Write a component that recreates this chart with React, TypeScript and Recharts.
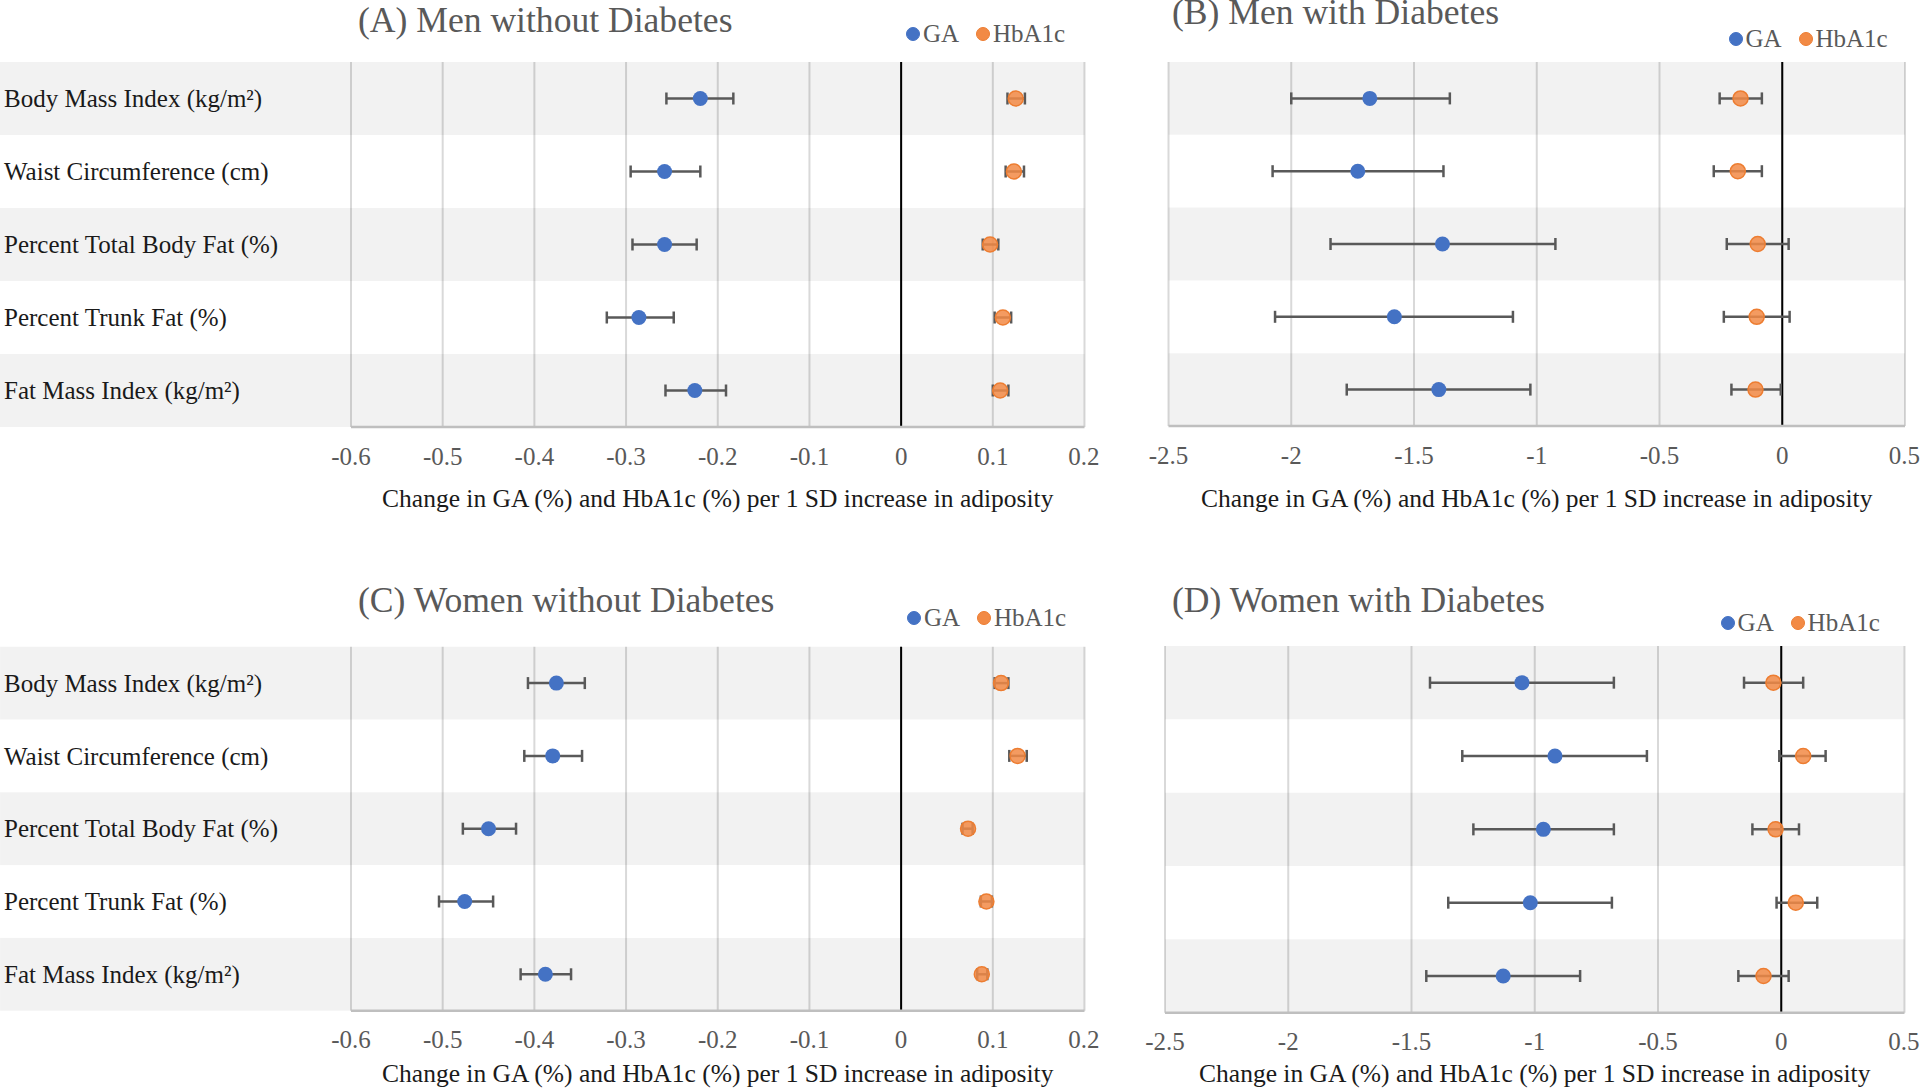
import React from 'react';
import { ScatterChart, Scatter, XAxis, YAxis, CartesianGrid, ReferenceLine, ReferenceArea, ErrorBar } from 'recharts';

const FONT = '"Liberation Serif", "Times New Roman", serif';

const categories = [
  'Body Mass Index (kg/m²)',
  'Waist Circumference (cm)',
  'Percent Total Body Fat (%)',
  'Percent Trunk Fat (%)',
  'Fat Mass Index (kg/m²)',
];

const ticksNoDm = [-0.6, -0.5, -0.4, -0.3, -0.2, -0.1, 0, 0.1, 0.2];
const ticksDm = [-2.5, -2, -1.5, -1, -0.5, 0, 0.5];

// (A) men without diabetes
const gaMenNoDm = [-0.219, -0.258, -0.258, -0.286, -0.225];
const gaMenNoDmLo = [-0.256, -0.295, -0.293, -0.321, -0.257];
const gaMenNoDmHi = [-0.183, -0.219, -0.223, -0.248, -0.191];
const hbMenNoDm = [0.125, 0.123, 0.097, 0.111, 0.108];
const hbMenNoDmLo = [0.116, 0.114, 0.089, 0.102, 0.1];
const hbMenNoDmHi = [0.135, 0.134, 0.106, 0.12, 0.117];

// (B) men with diabetes
const gaMenDm = [-1.68, -1.729, -1.384, -1.58, -1.399];
const gaMenDmLo = [-2.0, -2.076, -1.84, -2.066, -1.774];
const gaMenDmHi = [-1.354, -1.38, -0.924, -1.097, -1.026];
const hbMenDm = [-0.17, -0.181, -0.1, -0.104, -0.109];
const hbMenDmLo = [-0.255, -0.279, -0.226, -0.238, -0.207];
const hbMenDmHi = [-0.083, -0.083, 0.026, 0.03, -0.006];

// (C) women without diabetes
const gaWomenNoDm = [-0.376, -0.38, -0.45, -0.476, -0.388];
const gaWomenNoDmLo = [-0.407, -0.411, -0.478, -0.504, -0.415];
const gaWomenNoDmHi = [-0.345, -0.348, -0.42, -0.445, -0.36];
const hbWomenNoDm = [0.109, 0.127, 0.073, 0.093, 0.088];
const hbWomenNoDmLo = [0.102, 0.118, 0.067, 0.087, 0.083];
const hbWomenNoDmHi = [0.117, 0.137, 0.078, 0.099, 0.094];

// (D) women with diabetes
const gaWomenDm = [-1.052, -0.918, -0.965, -1.018, -1.128];
const gaWomenDmLo = [-1.425, -1.294, -1.249, -1.351, -1.44];
const gaWomenDmHi = [-0.679, -0.545, -0.679, -0.687, -0.816];
const hbWomenDm = [-0.032, 0.089, -0.023, 0.059, -0.072];
const hbWomenDmLo = [-0.151, -0.008, -0.117, -0.019, -0.174];
const hbWomenDmHi = [0.089, 0.18, 0.072, 0.146, 0.03];

const axisTitle = 'Change in GA (%) and HbA1c (%) per 1 SD increase in adiposity';

const toRows = (vals: number[], lo: number[], hi: number[]) =>
  vals.map((v, i) => ({ y: i, x: v, err: [v - lo[i], hi[i] - v] }));

const GaDot = (p: any) => <circle cx={p.cx} cy={p.cy} r={7.5} fill="#4472C4" />;
const HbDot = (p: any) => (
  <circle cx={p.cx} cy={p.cy} r={7.5} fill="#F28A45" fillOpacity={0.85} stroke="#ED7D31" strokeWidth={1.5} />
);

// translucent so the vertical gridlines stay visible through the stripes
const bandFill = '#000';
const bandOpacity = 0.05;

interface PanelProps {
  title: string;
  left: number;
  top: number;
  plotLeft: number;
  plotRight: number;
  plotTop: number;
  plotBottom: number;
  titleX: number;
  titleBase: number;
  axisTitleBase: number;
  legendX: number;
  legendY: number;
  ticks: number[];
  ga: any[];
  hb: any[];
  labels?: boolean;
}

const Legend = ({ x, y }: { x: number; y: number }) => {
  const txt = (lx: number, s: string) => (
    <span
      style={{
        position: 'absolute',
        left: lx,
        top: y + 8 - 21,
        fontSize: 25,
        lineHeight: '25px',
        color: '#595959',
        fontFamily: FONT,
        whiteSpace: 'nowrap',
      }}
    >
      {s}
    </span>
  );
  const dot = (cx: number, fill: string, border: string) => (
    <span
      style={{
        position: 'absolute',
        left: cx - 7,
        top: y - 7,
        width: 14,
        height: 14,
        borderRadius: '50%',
        background: fill,
        boxSizing: 'border-box',
        border: `1.5px solid ${border}`,
      }}
    />
  );
  return (
    <>
      {dot(x, '#4472C4', '#4472C4')}
      {txt(x + 10, 'GA')}
      {dot(x + 70, '#F28A45', '#ED7D31')}
      {txt(x + 80, 'HbA1c')}
    </>
  );
};

const Panel = (props: PanelProps) => {
  const { left, top, plotLeft, plotRight, plotTop, plotBottom, ticks, labels } = props;
  const xAxisH = 113;
  const width = plotRight - left + 15;
  const height = plotBottom - top + xAxisH;
  const bandH = (plotBottom - plotTop) / categories.length;

  const YTick = (tp: any) => {
    const i = tp.payload.value;
    return (
      <g>
        {i % 2 === 0 && (
          <rect x={0} y={tp.y - bandH / 2} width={plotLeft - left} height={bandH} fill={bandFill} fillOpacity={bandOpacity} />
        )}
        <text x={4} y={tp.y} dy="0.35em" fontSize={25} fill="#1a1a1a" fontFamily={FONT}>
          {categories[i]}
        </text>
      </g>
    );
  };

  return (
    <div style={{ position: 'absolute', left, top, width, height }}>
      <ScatterChart
        width={width}
        height={height}
        margin={{ top: plotTop - top, right: 15, bottom: 0, left: labels ? 0 : plotLeft - left }}
      >
        <CartesianGrid horizontal={false} stroke="#d9d9d9" strokeWidth={2} />
        {categories.map((c, i) =>
          i % 2 === 0 ? (
            <ReferenceArea key={c} y1={i - 0.5} y2={i + 0.5} fill={bandFill} fillOpacity={bandOpacity} stroke="none" ifOverflow="visible" />
          ) : null
        )}
        <XAxis
          type="number"
          dataKey="x"
          domain={[ticks[0], ticks[ticks.length - 1]]}
          ticks={ticks}
          allowDataOverflow
          height={xAxisH}
          tickLine={false}
          tickSize={0}
          tickMargin={20}
          axisLine={{ stroke: '#bfbfbf', strokeWidth: 2.5 }}
          tick={{ fontSize: 25, fill: '#595959', fontFamily: FONT }}
        />
        <YAxis
          type="number"
          dataKey="y"
          domain={[-0.5, 4.5]}
          ticks={[0, 1, 2, 3, 4]}
          reversed
          interval={0}
          hide={!labels}
          width={labels ? plotLeft - left : 0}
          axisLine={false}
          tickLine={false}
          tick={labels ? YTick : false}
        />
        <ReferenceLine x={0} stroke="#000" strokeWidth={2} />
        <Scatter name="GA" data={props.ga} shape={GaDot} isAnimationActive={false}>
          <ErrorBar dataKey="err" direction="x" width={6} stroke="#595959" strokeWidth={2.5} isAnimationActive={false} />
        </Scatter>
        <Scatter name="HbA1c" data={props.hb} shape={HbDot} isAnimationActive={false}>
          <ErrorBar dataKey="err" direction="x" width={6} stroke="#595959" strokeWidth={2.5} isAnimationActive={false} />
        </Scatter>
      </ScatterChart>
      <div
        style={{
          position: 'absolute',
          left: props.titleX - left,
          top: props.titleBase - top - 29.8,
          fontSize: 35.6,
          lineHeight: '35.6px',
          color: '#595959',
          fontFamily: FONT,
          whiteSpace: 'nowrap',
        }}
      >
        {props.title}
      </div>
      <Legend x={props.legendX - left} y={props.legendY - top} />
      <div
        style={{
          position: 'absolute',
          left: plotLeft - left,
          width: plotRight - plotLeft,
          top: props.axisTitleBase - top - 21.3,
          textAlign: 'center',
          fontSize: 25.5,
          lineHeight: '25.5px',
          color: '#1a1a1a',
          fontFamily: FONT,
          whiteSpace: 'nowrap',
        }}
      >
        {axisTitle}
      </div>
    </div>
  );
};

export default function App() {
  return (
    <div style={{ position: 'absolute', left: 0, top: 0, width: 1920, height: 1089, background: '#fff', overflow: 'hidden' }}>
      <Panel
        title="(A) Men without Diabetes"
        left={0}
        top={0}
        plotLeft={351}
        plotRight={1084.5}
        plotTop={62}
        plotBottom={427}
        titleX={358}
        titleBase={33}
        axisTitleBase={507}
        legendX={913}
        legendY={34}
        ticks={ticksNoDm}
        ga={toRows(gaMenNoDm, gaMenNoDmLo, gaMenNoDmHi)}
        hb={toRows(hbMenNoDm, hbMenNoDmLo, hbMenNoDmHi)}
        labels
      />
      <Panel
        title="(B) Men with Diabetes"
        left={1100}
        top={0}
        plotLeft={1168.5}
        plotRight={1905}
        plotTop={62}
        plotBottom={426}
        titleX={1172}
        titleBase={25}
        axisTitleBase={507}
        legendX={1735.5}
        legendY={39}
        ticks={ticksDm}
        ga={toRows(gaMenDm, gaMenDmLo, gaMenDmHi)}
        hb={toRows(hbMenDm, hbMenDmLo, hbMenDmHi)}
      />
      <Panel
        title="(C) Women without Diabetes"
        left={0}
        top={570}
        plotLeft={351}
        plotRight={1084.5}
        plotTop={646.7}
        plotBottom={1010.7}
        titleX={358}
        titleBase={613}
        axisTitleBase={1082}
        legendX={914}
        legendY={618}
        ticks={ticksNoDm}
        ga={toRows(gaWomenNoDm, gaWomenNoDmLo, gaWomenNoDmHi)}
        hb={toRows(hbWomenNoDm, hbWomenNoDmLo, hbWomenNoDmHi)}
        labels
      />
      <Panel
        title="(D) Women with Diabetes"
        left={1100}
        top={570}
        plotLeft={1165}
        plotRight={1904.5}
        plotTop={646}
        plotBottom={1012.7}
        titleX={1172}
        titleBase={613}
        axisTitleBase={1082}
        legendX={1727.6}
        legendY={622.7}
        ticks={ticksDm}
        ga={toRows(gaWomenDm, gaWomenDmLo, gaWomenDmHi)}
        hb={toRows(hbWomenDm, hbWomenDmLo, hbWomenDmHi)}
      />
    </div>
  );
}
